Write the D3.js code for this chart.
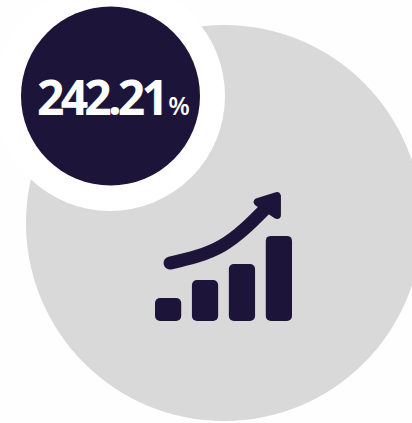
<!DOCTYPE html>
<html>
<head>
<meta charset="utf-8">
<script src="https://cdn.jsdelivr.net/npm/d3@7"></script>
<style>
  html, body { margin: 0; padding: 0; background: #fefefe; overflow: hidden; }
</style>
</head>
<body>
<svg class="chart"></svg>
<script>
var width = 412,
    height = 423;

var kpiValue = "242.21";
var kpiUnit = "%";

// icon bars
var barNames = ["a", "b", "c", "d"];
var barValues = [1.0, 1.78, 2.48, 3.7];

// trend arrow above the bars
var trendX = [0.44, 1.96, 3.27];
var trendY = [2.52, 3.28, 4.96];
var headX = [3.0, 3.56, 3.56];
var headY = [5.17, 5.43, 4.61];

var dark = "#1c1539",
    grey = "#d9d9d9",
    ring = "#ffffff";

var chart = d3.select(".chart")
    .attr("width", width)
    .attr("height", height)
    .style("display", "block");

chart.append("circle")
    .attr("cx", 224)
    .attr("cy", 223)
    .attr("r", 198)
    .attr("fill", grey);

chart.append("circle")
    .attr("cx", 110)
    .attr("cy", 96)
    .attr("r", 115)
    .attr("fill", ring);

chart.append("circle")
    .attr("cx", 110.5)
    .attr("cy", 96)
    .attr("r", 89.5)
    .attr("fill", dark);

var label = chart.append("text")
    .attr("x", 37)
    .attr("y", 115)
    .attr("fill", "#ffffff")
    .style("font-family", "'Open Sans', sans-serif");

label.append("tspan")
    .style("font-size", "48px")
    .style("font-weight", 700)
    .style("letter-spacing", "-3.8px")
    .text(kpiValue);

label.append("tspan")
    .attr("dx", 3)
    .style("font-size", "25px")
    .style("font-weight", 600)
    .text(kpiUnit);

var x = d3.scaleBand()
    .domain(barNames)
    .range([155, 292])
    .paddingInner(0.29);

var y = d3.scaleLinear()
    .domain([0, 4])
    .range([321, 229]);

var xTrend = d3.scaleLinear()
    .domain([0, 4])
    .range([155, 292]);

chart.selectAll(".bar")
    .data(barValues)
  .enter().append("rect")
    .attr("class", "bar")
    .attr("x", function(d, i) { return x(barNames[i]); })
    .attr("y", function(d) { return y(d); })
    .attr("width", x.bandwidth())
    .attr("height", function(d) { return y(0) - y(d); })
    .attr("rx", 5)
    .attr("fill", dark);

var lineGenerator = d3.line()
    .x(function(d) { return xTrend(d[0]); })
    .y(function(d) { return y(d[1]); })
    .curve(d3.curveNatural);

chart.append("path")
    .attr("d", lineGenerator(d3.zip(trendX, trendY)))
    .attr("fill", "none")
    .attr("stroke", dark)
    .attr("stroke-width", 13)
    .attr("stroke-linecap", "round");

chart.append("path")
    .attr("d", d3.line()
      .x(function(d) { return xTrend(d[0]); })
      .y(function(d) { return y(d[1]); })(d3.zip(headX, headY)) + "Z")
    .attr("fill", dark)
    .attr("stroke", dark)
    .attr("stroke-width", 8)
    .attr("stroke-linejoin", "round");
</script>
</body>
</html>
